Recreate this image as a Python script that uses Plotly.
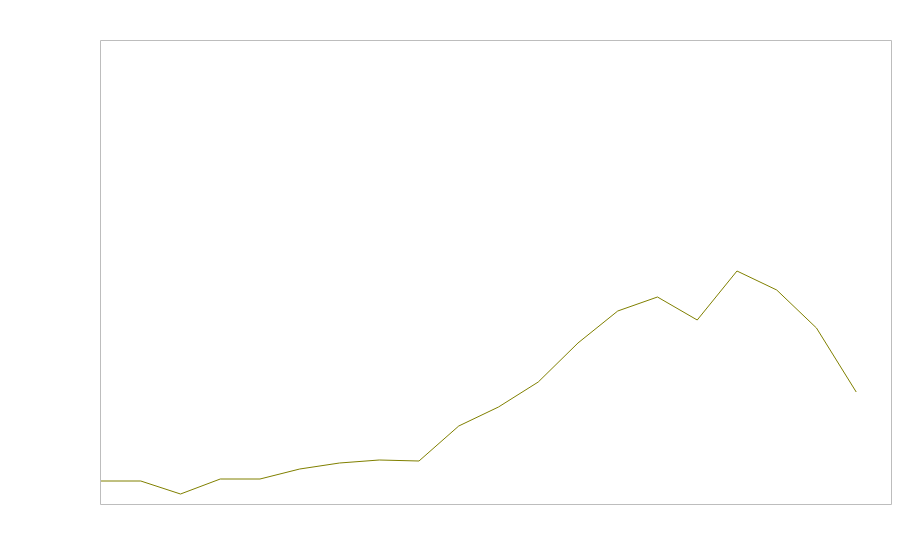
import plotly.graph_objects as go

x_index = list(range(20))
values = [23, 23, 10, 25, 25, 35, 41, 44, 43, 78, 97, 122, 161, 193, 207, 184, 233, 214, 176, 112]

PW, PH = 791, 463
fig = go.Figure()
fig.add_trace(go.Scatter(x=x_index, y=values, mode="lines",
                         line=dict(color="#808000", width=1), showlegend=False,
                         hoverinfo="skip"))
fig.update_layout(
    width=890, height=544,
    margin=dict(l=93, r=6, t=33, b=48),
    paper_bgcolor="white", plot_bgcolor="white",
)
fig.add_shape(type="rect", xref="paper", yref="paper",
              x0=-0.5 / PW, x1=1 - 0.5 / PW, y0=-0.5 / PH, y1=1 + 0.5 / PH,
              line=dict(color="#bdbdbd", width=1), layer="below")
fig.update_xaxes(range=[0, 19.9], showgrid=False, zeroline=False, showticklabels=False,
                 ticks="", showline=False)
fig.update_yaxes(range=[0, 463], showgrid=False, zeroline=False, showticklabels=False,
                 ticks="", showline=False)
fig.write_html("out.html")
